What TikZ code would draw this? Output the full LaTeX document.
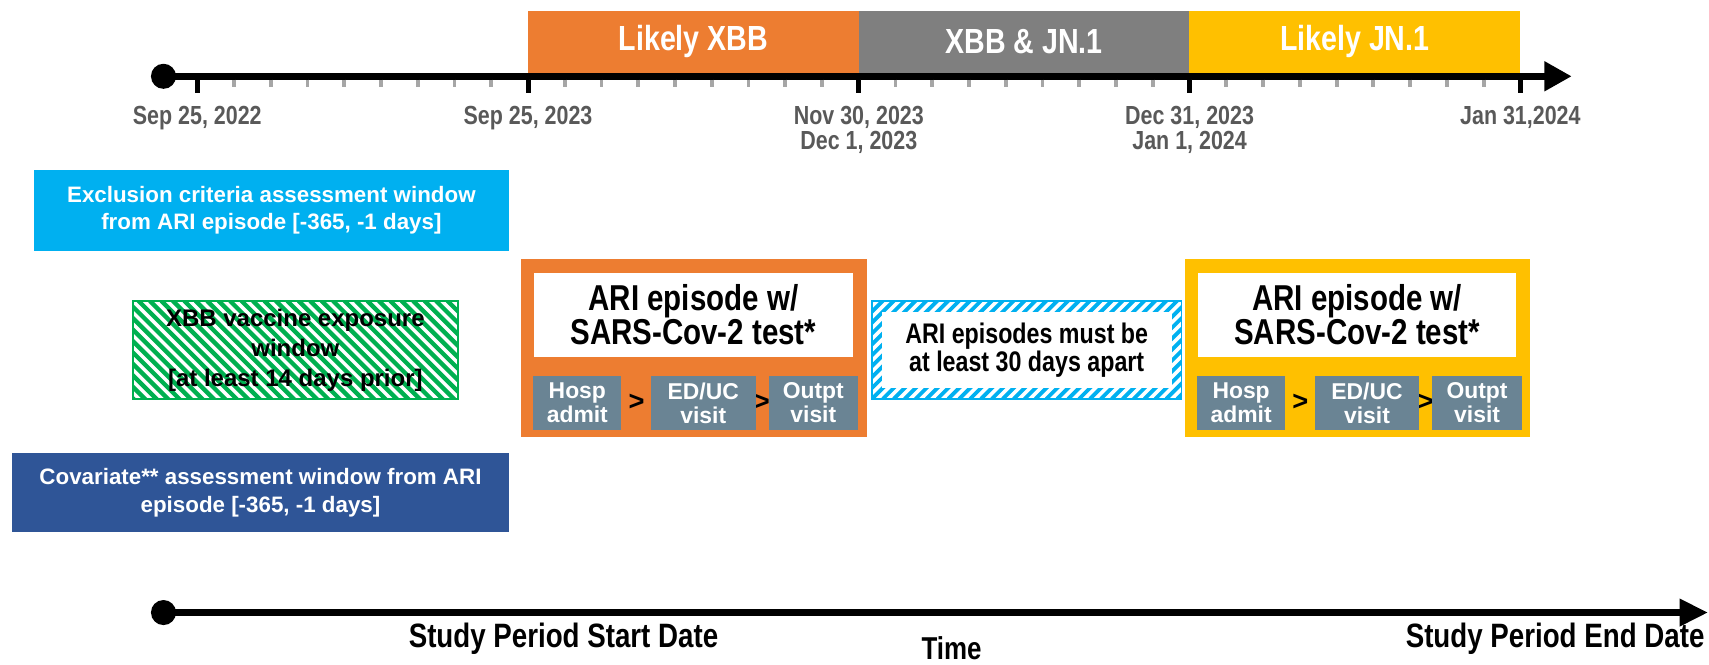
\documentclass[tikz,border=0pt]{standalone}
\usepackage{fontspec}
\setmainfont{Liberation Sans}
\newfontfamily\narrowsf[FakeStretch=0.82]{Liberation Sans}
\usepackage{tikz}
\usetikzlibrary{arrows.meta,positioning,calc}

\definecolor{varxbb}{RGB}{237,125,49}
\definecolor{varmix}{RGB}{127,127,127}
\definecolor{varjn}{RGB}{255,192,0}
\definecolor{exclblue}{RGB}{0,176,240}
\definecolor{covblue}{RGB}{47,85,151}
\definecolor{vaxgreen}{RGB}{0,176,80}
\definecolor{visitgray}{RGB}{106,132,148}
\definecolor{dategray}{RGB}{89,89,89}
\definecolor{tickgray}{RGB}{166,166,166}

\begin{document}
\begin{tikzpicture}[x=1pt, y=-1pt,
  axisline/.style={line width=6pt},
  dot/.style={circle, fill=black, inner sep=0pt, minimum size=23pt},
  period/.style={text=white, inner sep=0pt, minimum height=57pt, font=\narrowsf\bfseries\fontsize{32}{36}\selectfont},
  datelbl/.style={text=dategray, inner sep=0pt, align=center, anchor=north, font=\narrowsf\bfseries\fontsize{24}{23}\selectfont},
  window/.style={text=white, inner sep=0pt, align=center, font=\bfseries\fontsize{20.5}{25}\selectfont},
  hatchtxt/.style={inner sep=0pt, align=center, minimum width=298pt, minimum height=90pt},
  episode/.style={inner sep=0pt, minimum width=317pt, minimum height=164pt, anchor=north west},
  testbox/.style={fill=white, inner sep=0pt, align=center, minimum width=292pt, minimum height=77pt, anchor=north west, font=\narrowsf\bfseries\fontsize{33}{29.5}\selectfont},
  visit/.style={fill=visitgray, text=white, inner sep=0pt, minimum height=49pt, anchor=north west, align=center, font=\bfseries\fontsize{21}{22}\selectfont},
  gt/.style={inner sep=0pt, font=\bfseries\fontsize{25}{25}\selectfont},
  studylbl/.style={inner sep=0pt, font=\narrowsf\bfseries\fontsize{31}{31}\selectfont}]
\useasboundingbox (0,0) rectangle (1568,610);

% time line with variant periods
\node[period, fill=varxbb, minimum width=303.5pt] (pxbb) at (636.25,38.5) {Likely XBB};
\node[period, fill=varmix, minimum width=303pt] (pmix) at (939.5,38.5) {XBB \& JN.1};
\node[period, fill=varjn, minimum width=304pt] (pjn) at (1243,38.5) {Likely JN.1};
\node[dot] (topstart) at (150,70) {};
\coordinate (topend) at (1442,70);
\draw[axisline, -{Triangle[length=25pt,width=26pt]}] (topstart.center) -- (topend);
\foreach \i in {1,...,35}
  \draw[tickgray, line width=3.5pt] ({181+33.72*\i},73) -- ++(0,7);
\foreach \i/\d [count=\k] in {0/{Sep 25, 2022}, 9/{Sep 25, 2023}, 18/{Nov 30, 2023\\Dec 1, 2023}, 27/{Dec 31, 2023\\Jan 1, 2024}, 36/{Jan 31,2024}} {
  \draw[black, line width=4.5pt] ({181+33.72*\i},73) -- ++(0,12);
  \node[datelbl] (date\k) at ({181+33.72*\i},97) {\d};
}

% assessment windows
\node[window, fill=exclblue, minimum width=436pt, minimum height=74pt] (excl) at (249,193) {Exclusion criteria assessment window\\from ARI episode [-365, -1 days]};
\node[hatchtxt, draw=vaxgreen, line width=1.5pt, font=\bfseries\fontsize{22}{27.5}\selectfont,
  path picture={\foreach \s in {-100,-89.5,...,310}
    \draw[vaxgreen, line width=4pt] ([xshift=\s pt]path picture bounding box.north west) -- ++(100,100);}]
  (vax) at (271,321) {XBB vaccine exposure\\window\\{}[at least 14 days prior]};
\node[window, fill=covblue, minimum width=456pt, minimum height=72pt] (cov) at (239,452) {Covariate** assessment window from ARI\\episode [-365, -1 days]};

% ARI episodes
\foreach \x/\c/\n in {478/varxbb/a, 1087/varjn/b} {
  \node[episode, fill=\c] (ep\n) at (\x,237) {};
  \node[testbox] (test\n) at (\x+12,250) {ARI episode w/\\SARS-Cov-2 test*};
  \node[gt] (gta\n) at (\x+106,369) {>};
  \node[gt] (gtb\n) at (\x+221,369) {>};
  \node[visit, minimum width=81pt] (hosp\n) at (\x+11,345) {Hosp\\admit};
  \node[visit, minimum width=96pt] (educ\n) at (\x+119,345) {ED/UC\\visit};
  \node[visit, minimum width=82pt] (outpt\n) at (\x+227,345) {Outpt\\visit};
}
\node[hatchtxt, minimum width=284pt, draw=exclblue, line width=1.5pt, font=\narrowsf\bfseries\fontsize{26}{26}\selectfont,
  path picture={\foreach \s in {-100,-90,...,300}
    \draw[exclblue, line width=3.5pt] ([xshift=\s pt]path picture bounding box.south west) -- ++(100,-100);
    \fill[white] ([xshift=9pt,yshift=-10pt]path picture bounding box.north west) rectangle ([xshift=-9pt,yshift=10pt]path picture bounding box.south east);}]
  (apart) at (942,321) {ARI episodes must be\\at least 30 days apart};

% study period
\node[dot] (botstart) at (150,562) {};
\coordinate (botend) at (1567,562);
\draw[axisline, -{Triangle[length=26pt,width=24pt]}] (botstart.center) -- (botend);
\node[studylbl] (startlbl) at (517,586) {Study Period Start Date};
\node[studylbl, anchor=east] (endlbl) at (1564,586) {Study Period End Date};
\node[studylbl, font=\narrowsf\bfseries\fontsize{29}{29}\selectfont] (timelbl) at (873,595) {Time};
\end{tikzpicture}
\end{document}
